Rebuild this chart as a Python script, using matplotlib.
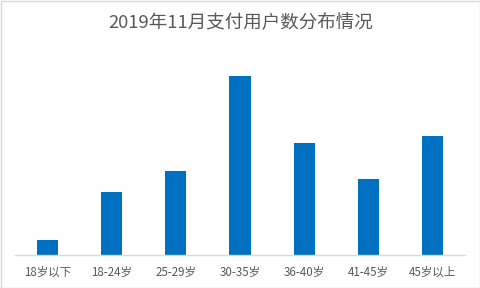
import matplotlib
matplotlib.use("Agg")
import matplotlib.pyplot as plt
from matplotlib.patches import Rectangle

plt.rcParams['font.family'] = ['Noto Sans CJK SC', 'DejaVu Sans']

# 年龄段与支付用户数(相对值, 读自原图)
categories = ['18岁以下', '18-24岁', '25-29岁', '30-35岁', '36-40岁', '41-45岁', '45岁以上']
users = [15, 63, 84, 179, 112, 76, 119]
title = '2019年11月支付用户数分布情况'

W, H = 481, 288
fig = plt.figure(figsize=(W / 100, H / 100), dpi=100)

# 外框
fig.patches.append(Rectangle((0.5 / W, 0.5 / H), 1 - 1.5 / W, 1 - 1.5 / H,
                             transform=fig.transFigure, fill=False,
                             edgecolor='#D9D9D9', linewidth=1))

ax = fig.add_axes([15 / W, (H - 255) / H, 450 / W, 195 / H])
x = range(len(categories))
ax.bar(x, users, width=0.33, color='#0070C0')
ax.set_xlim(-0.5, len(categories) - 0.5)
ax.set_ylim(0, 195)

for s in ['top', 'right', 'left']:
    ax.spines[s].set_visible(False)
ax.spines['bottom'].set_color('#D9D9D9')
ax.spines['bottom'].set_linewidth(1)
ax.set_yticks([])
ax.set_xticks(list(x))
ax.set_xticklabels(categories, fontsize=8.3, color='#595959')
ax.tick_params(axis='x', length=0, pad=8)

fig.text(0.5, 1 - 23 / H, title, ha='center', va='center', fontsize=13.3, color='#595959')

fig.savefig('out.png', dpi=100)
